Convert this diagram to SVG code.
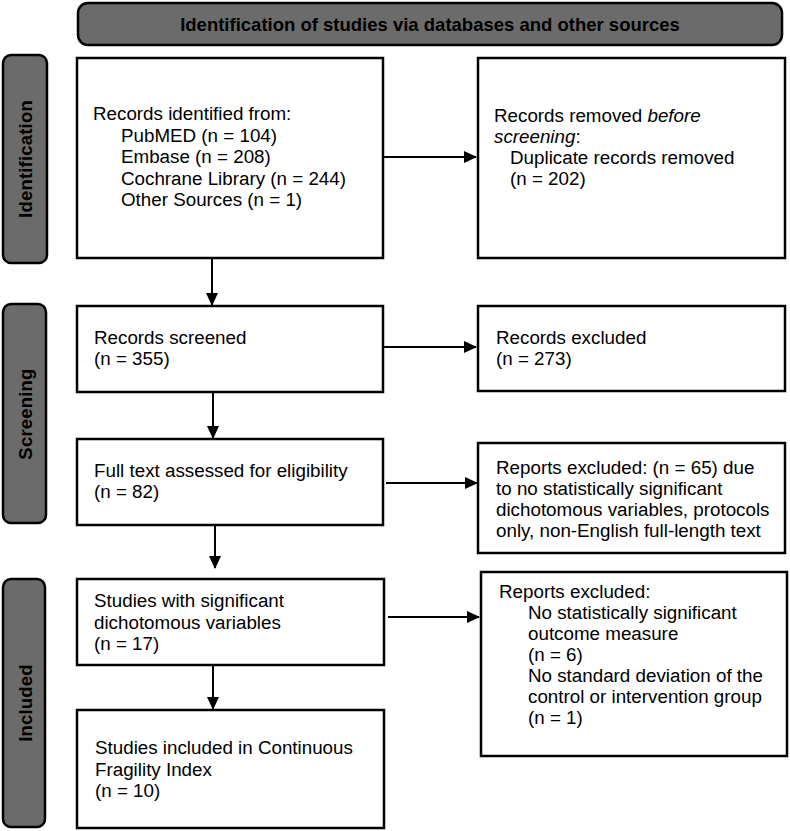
<svg xmlns="http://www.w3.org/2000/svg" width="790" height="831" viewBox="0 0 790 831">
<style>
  .box { fill: #ffffff; stroke: #000000; stroke-width: 2.5; }
  .band { fill: #6b6b6b; stroke: #000000; stroke-width: 2.5; }
  .t { font-family: "Liberation Sans", Arial, sans-serif; font-size: 18.8px; fill: #000000; }
  .b { font-family: "Liberation Sans", Arial, sans-serif; font-size: 18.5px; font-weight: bold; fill: #000000; }
  .side { font-family: "Liberation Sans", Arial, sans-serif; font-size: 18.5px; font-weight: bold; fill: #000000; letter-spacing: 0.2px; text-anchor: middle; }
  .conn { stroke: #000000; stroke-width: 2; fill: none; marker-end: url(#ah); }
</style>
<defs>
  <marker id="ah" markerWidth="13" markerHeight="12" refX="12" refY="6" orient="auto" markerUnits="userSpaceOnUse">
    <path d="M0,0 L13,6 L0,12 Z" fill="#000000"/>
  </marker>
</defs>
<rect width="790" height="831" fill="#ffffff"/>

<g id="header">
  <rect class="band" x="78" y="3" width="704" height="42" rx="10"/>
  <text class="b" x="430" y="31" text-anchor="middle">Identification of studies via databases and other sources</text>
</g>

<g id="side-identification">
  <rect class="band" x="3" y="55" width="44" height="208" rx="8"/>
  <text class="side" transform="translate(32,159) rotate(-90)">Identification</text>
</g>
<g id="side-screening">
  <rect class="band" x="3" y="304" width="43" height="219" rx="8"/>
  <text class="side" transform="translate(32,414) rotate(-90)">Screening</text>
</g>
<g id="side-included">
  <rect class="band" x="3" y="579" width="42" height="248" rx="8"/>
  <text class="side" transform="translate(32,703) rotate(-90)">Included</text>
</g>

<g id="records-identified">
  <rect class="box" x="77" y="58" width="306" height="200"/>
  <text class="t" x="93" y="120">Records identified from:</text>
  <text class="t" x="121" y="141.5">PubMED (n = 104)</text>
  <text class="t" x="121" y="163">Embase (n = 208)</text>
  <text class="t" x="121" y="184.5">Cochrane Library (n = 244)</text>
  <text class="t" x="121" y="206">Other Sources (n = 1)</text>
</g>

<g id="records-removed">
  <rect class="box" x="478" y="58" width="307" height="200"/>
  <text class="t" x="494" y="122">Records removed <tspan font-style="italic">before</tspan></text>
  <text class="t" x="494" y="143"><tspan font-style="italic">screening</tspan>:</text>
  <text class="t" x="510" y="164">Duplicate records removed</text>
  <text class="t" x="510" y="185">(n = 202)</text>
</g>

<g id="records-screened">
  <rect class="box" x="77" y="306" width="306" height="86"/>
  <text class="t" x="94" y="344">Records screened</text>
  <text class="t" x="94" y="365">(n = 355)</text>
</g>

<g id="records-excluded">
  <rect class="box" x="478" y="306" width="307" height="85"/>
  <text class="t" x="496" y="344">Records excluded</text>
  <text class="t" x="496" y="365">(n = 273)</text>
</g>

<g id="full-text">
  <rect class="box" x="77" y="439" width="306" height="86"/>
  <text class="t" x="94" y="477">Full text assessed for eligibility</text>
  <text class="t" x="94" y="498">(n = 82)</text>
</g>

<g id="reports-excluded-1">
  <rect class="box" x="478" y="443" width="307" height="110"/>
  <text class="t" x="496" y="474">Reports excluded: (n = 65) due</text>
  <text class="t" x="496" y="495">to no statistically significant</text>
  <text class="t" x="496" y="516">dichotomous variables, protocols</text>
  <text class="t" x="496" y="537">only, non-English full-length text</text>
</g>

<g id="studies-significant">
  <rect class="box" x="77" y="579" width="307" height="86"/>
  <text class="t" x="94" y="607">Studies with significant</text>
  <text class="t" x="94" y="628.5">dichotomous variables</text>
  <text class="t" x="94" y="650">(n = 17)</text>
</g>

<g id="reports-excluded-2">
  <rect class="box" x="481" y="572" width="306" height="184"/>
  <text class="t" x="499" y="598">Reports excluded:</text>
  <text class="t" x="528" y="619">No statistically significant</text>
  <text class="t" x="528" y="640">outcome measure</text>
  <text class="t" x="528" y="661">(n = 6)</text>
  <text class="t" x="528" y="682">No standard deviation of the</text>
  <text class="t" x="528" y="703">control or intervention group</text>
  <text class="t" x="528" y="724">(n = 1)</text>
</g>

<g id="studies-included">
  <rect class="box" x="77" y="710" width="307" height="118"/>
  <text class="t" x="95" y="754">Studies included in Continuous</text>
  <text class="t" x="95" y="775.5">Fragility Index</text>
  <text class="t" x="95" y="797">(n = 10)</text>
</g>

<g id="connectors">
  <line class="conn" x1="384" y1="157" x2="476" y2="157"/>
  <line class="conn" x1="212" y1="259" x2="212" y2="305"/>
  <line class="conn" x1="384" y1="347" x2="476" y2="347"/>
  <line class="conn" x1="213" y1="393" x2="213" y2="438"/>
  <line class="conn" x1="386" y1="483" x2="477" y2="483"/>
  <line class="conn" x1="215" y1="526" x2="215" y2="568"/>
  <line class="conn" x1="388" y1="617" x2="479" y2="617"/>
  <line class="conn" x1="213" y1="666" x2="213" y2="709"/>
</g>
</svg>
